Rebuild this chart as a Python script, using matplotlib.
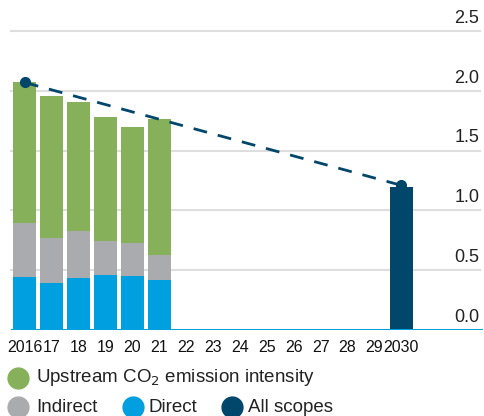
import matplotlib
matplotlib.use("Agg")
import matplotlib.pyplot as plt
from matplotlib.lines import Line2D
from matplotlib import font_manager

years = [2016, 2017, 2018, 2019, 2020, 2021]
direct = [0.447, 0.396, 0.438, 0.463, 0.455, 0.420]
indirect = [0.450, 0.376, 0.392, 0.284, 0.270, 0.205]
upstream = [1.177, 1.188, 1.080, 1.033, 0.975, 1.140]
target_year = [2030]
target_value = [1.20]
trend_years = [2016, 2030]
trend_values = [2.07, 1.21]
xtick_years = list(range(2016, 2031))
xtick_labels = ["2016"] + [str(y % 100) for y in range(2017, 2030)] + ["2030"]
yticks = [0.0, 0.5, 1.0, 1.5, 2.0, 2.5]

GREEN = "#86B05A"
GRAY = "#A9ABAE"
BLUE = "#009FDF"
NAVY = "#00476B"

avail = {f.name for f in font_manager.fontManager.ttflist}
fam = ["Liberation Sans Narrow", "Liberation Sans", "DejaVu Sans"]
fam = [f for f in fam if f in avail] + ["DejaVu Sans"]
plt.rcParams["font.family"] = fam

fig = plt.figure(figsize=(4.85, 4.16), dpi=100)
ax = fig.add_axes([10/485, 86/416, 473/485, 330/416])

w = 0.84
ax.bar(years, direct, width=w, color=BLUE, zorder=3)
bottom2 = direct
ax.bar(years, indirect, width=w, bottom=bottom2, color=GRAY, zorder=3)
bottom3 = [a + b for a, b in zip(direct, indirect)]
ax.bar(years, upstream, width=w, bottom=bottom3, color=GREEN, zorder=3)

ax.plot(trend_years, trend_values, color=NAVY, lw=2, ls=(0, (5, 4)), zorder=4)
ax.plot(trend_years, trend_values, 'o', color=NAVY, ms=7, zorder=4)
ax.bar(target_year, target_value, width=w, color=NAVY, zorder=5)

ax.set_xlim(2015.45, 2033.04)
ax.set_ylim(0, 2.76)
for s in ax.spines.values():
    s.set_visible(False)
ax.set_yticks([])
ax.set_xticks([])
for yv in yticks[1:]:
    ax.axhline(yv, xmin=0, xmax=(480-10)/473, color="#DEDEDE", lw=1.5, zorder=1)
ax.axhline(0, xmin=0.004, xmax=1, color=BLUE, lw=2.2, zorder=6)
for yv in yticks:
    ax.text(2032.9, yv + 0.035, f"{yv:.1f}", ha="right", va="bottom", fontsize=13, color="#222222")
for xv, lab in zip(xtick_years, xtick_labels):
    ax.text(xv, -0.08, lab, ha="center", va="top", fontsize=11.5, color="#111111", clip_on=False)

def legend_item(xc, yc, color, label, tx):
    fig.add_artist(Line2D([xc/485], [1 - yc/416], marker='o', ms=15, color=color, ls='none', transform=fig.transFigure))
    fig.text(tx/485, 1 - yc/416, label, ha="left", va="center", fontsize=13.5, color="#222222")

legend_item(18, 378, GREEN, "Upstream CO$_2$ emission intensity", 36)
legend_item(18, 407, GRAY, "Indirect", 36)
legend_item(133, 407, BLUE, "Direct", 149)
legend_item(232, 407, NAVY, "All scopes", 248)

fig.savefig("out.png", dpi=100)
